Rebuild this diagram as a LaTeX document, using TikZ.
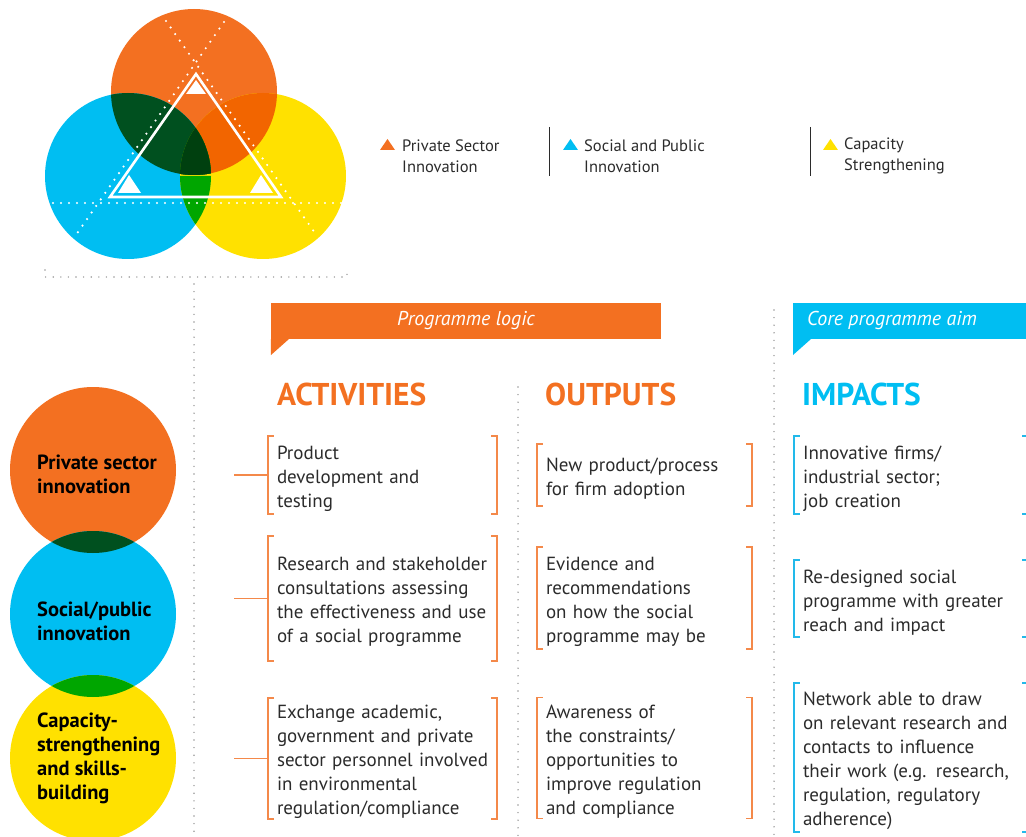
\documentclass[tikz,border=0pt]{standalone}
\usepackage{fontspec}
\setmainfont{PT Sans}
\usetikzlibrary{positioning}
\definecolor{psorange}{HTML}{F37021}
\definecolor{spblue}{HTML}{00BEF2}
\definecolor{csyellow}{HTML}{FFE100}
\definecolor{obgreen}{HTML}{00501F}
\definecolor{oyorange}{HTML}{F26500}
\definecolor{bygreen}{HTML}{00A600}
\definecolor{allgreen}{HTML}{00400F}
\definecolor{txtgray}{HTML}{2B2B2B}
\definecolor{dotgray}{HTML}{9A9A9A}
\definecolor{brorange}{HTML}{F4894A}
\definecolor{brblue}{HTML}{22B9EA}

\begin{document}
\begin{tikzpicture}[x=1pt,y=-1pt,
    every node/.style={inner sep=0pt,text=txtgray},
    dotline/.style={dotgray,line width=1.6pt,line cap=round,dash pattern=on 0pt off 7.6pt},
    wdots/.style={white,line width=2.4pt,line cap=round,dash pattern=on 0pt off 8pt},
    boxtext/.style={font=\fontsize{19}{24}\selectfont,align=left,
      inner xsep=9pt,text height=21pt},
    actbox/.style={boxtext,text width=211pt,minimum height=#1},
    outbox/.style={boxtext,text width=197pt,minimum height=#1},
    impbox/.style={boxtext,text width=216pt,minimum height=#1},
    heading/.style={anchor=base west,font=\fontsize{31.5}{31.5}\selectfont\bfseries},
    banner/.style={font=\fontsize{20}{20}\selectfont\itshape,text=white,minimum height=36pt},
    circtext/.style={anchor=west,align=left,font=\fontsize{20.5}{24}\selectfont\bfseries,text=black},
    legtext/.style={anchor=west,align=left,font=\fontsize{16.5}{21.5}\selectfont},
    obr/.style={brorange,line width=1.5pt},
    bbr/.style={brblue,line width=1.5pt}]
  \useasboundingbox (0,0) rectangle (1026,837);

  % three overlapping circles (top left)
  \fill[psorange](194,92)circle(83);
  \fill[spblue](128,176)circle(83);
  \fill[csyellow](263,176)circle(83);
  \begin{scope}
    \clip(194,92)circle(83);
    \fill[obgreen](128,176)circle(83);
    \fill[oyorange](263,176)circle(83);
    \clip(128,176)circle(83);
    \fill[allgreen](263,176)circle(83);
  \end{scope}
  \begin{scope}
    \clip(128,176)circle(83);
    \clip(263,176)circle(83);
    \fill[bygreen](194,92)circle(83)(0,176)rectangle(340,260);
    \clip(194,92)circle(83);
    \fill[allgreen](194,92)circle(83);
  \end{scope}
  \draw[wdots](166,21)--(315,233)(224,22)--(76,235)(53,203)--(342,203);
  \draw[white,line width=2.6pt,line join=miter](196,74)--(281,197)--(110,197)--cycle;
  \fill[white](196,80)--(206,94)--(186,94)--cycle
    (129,175)--(141,193)--(118,193)--cycle
    (261,175)--(273,193)--(250,193)--cycle;

  % legend
  \fill[psorange](380,150)--(387.5,139)--(395,150)--cycle;
  \node[legtext](lgps)at(402,156){Private Sector\\Innovation};
  \draw[txtgray,line width=1pt](549,127)--(549,176);
  \fill[spblue](563,150)--(570.5,139)--(578,150)--cycle;
  \node[legtext](lgsp)at(584,156){Social and Public\\Innovation};
  \draw[txtgray,line width=1pt](810,127)--(810,176);
  \fill[csyellow](823,150)--(830.5,139)--(838,150)--cycle;
  \node[legtext](lgcs)at(844,156){Capacity\\Strengthening};

  % dotted guides
  \draw[dotline](45,270)--(45,277)--(347,277)--(347,270);
  \draw[dotline](194,284)--(194,837);
  \draw[dotline](518,387)--(518,837);
  \draw[dotline](774,310)--(774,837);

  % banners
  \node[banner,fill=psorange,minimum width=390pt](plb)at(466,321){Programme logic};
  \fill[psorange](plb.south west)--++(18,0)--++(-18,16)--cycle;
  \fill[spblue](793,303)rectangle(1026,339);
  \node[banner,anchor=west](cpa)at(807,321){Core programme aim};
  \fill[spblue](793,339)--++(18,0)--++(-18,16)--cycle;

  % headings
  \node[heading,text=psorange](hact)at(277,405){ACTIVITIES};
  \node[heading,text=psorange](hout)at(545,405){OUTPUTS};
  \node[heading,text=spblue](himp)at(802,405){IMPACTS};

  % left circles
  \fill[psorange](93,470)circle(83);
  \fill[spblue](93,614)circle(83);
  \fill[csyellow](93,758)circle(83);
  \begin{scope}
    \clip(93,470)circle(83);
    \fill[obgreen](93,614)circle(83);
  \end{scope}
  \begin{scope}
    \clip(93,614)circle(83);
    \fill[bygreen](93,758)circle(83);
  \end{scope}
  \node[circtext](cps)at(37,474){Private sector\\innovation};
  \node[circtext](csp)at(37,621){Social/public\\innovation};
  \node[circtext](ccs)at(37,758){Capacity-\\strengthening\\and skills-\\building};

  % activities
  \node[actbox=78pt](a1)at(382.5,475){Product\\development and\\testing};
  \node[actbox=125pt](a2)at(382.5,598.5){\mbox{Research and stakeholder}\\consultations assessing\\\mbox{the effectiveness and use}\\of a social programme};
  \node[actbox=117pt](a3)at(382.5,758.5){Exchange academic,\\government and private\\\mbox{sector personnel involved}\\in environmental\\regulation/compliance};
  % outputs
  \node[outbox=62pt](o1)at(644.5,475){New product/process\\for firm adoption};
  \node[outbox=102pt](o2)at(644.5,598){Evidence and\\recommendations\\on how the social\\programme may be};
  \node[outbox=118pt](o3)at(644.5,758){Awareness of\\the constraints/\\opportunities to\\improve regulation\\and compliance};
  % impacts
  \node[impbox=78pt](i1)at(911,475){Innovative firms/\\industrial sector;\\job creation};
  \node[impbox=77pt](i2)at(911,598.5){Re-designed social\\programme with greater\\reach and impact};
  \node[impbox=149pt](i3)at(911,757.5){Network able to draw\\on relevant research and\\contacts to influence\\their work (e.g. research,\\regulation, regulatory\\adherence)};

  \foreach \n/\s in {a1/obr,a2/obr,a3/obr,o1/obr,o2/obr,o3/obr,i1/bbr,i2/bbr,i3/bbr}{
    \draw[\s]([xshift=6pt]\n.north west)--(\n.north west)--(\n.south west)--([xshift=6pt]\n.south west);
    \draw[\s]([xshift=-6pt]\n.north east)--(\n.north east)--(\n.south east)--([xshift=-6pt]\n.south east);
  }

  % connectors into the activities
  \coordinate(l1)at(234,475);
  \coordinate(l2)at(234,598.5);
  \coordinate(l3)at(234,758.5);
  \draw[obr](l1)--(a1.west);
  \draw[obr](l2)--(a2.west);
  \draw[obr](l3)--(a3.west);
\end{tikzpicture}
\end{document}
